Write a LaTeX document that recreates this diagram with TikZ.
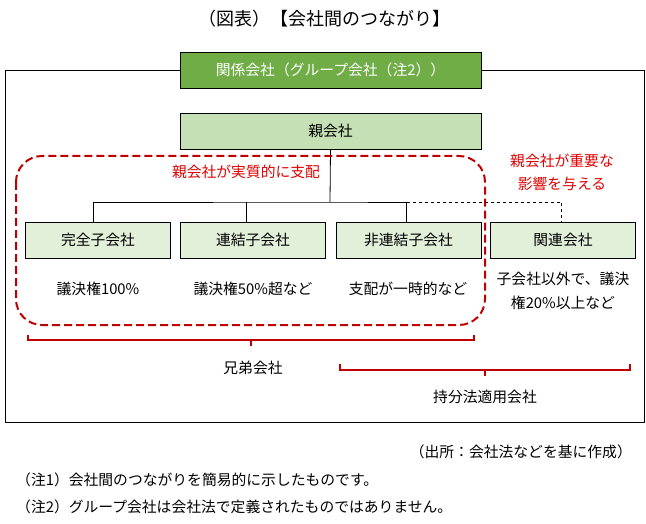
\documentclass[tikz,border=0pt]{standalone}
\usepackage{fontspec}
\setmainfont{Noto Sans CJK JP}
\definecolor{grpgreen}{HTML}{70AD47}
\definecolor{parentgreen}{HTML}{C5E0B4}
\definecolor{childgreen}{HTML}{E2F0D9}
\definecolor{linered}{HTML}{C00000}
\definecolor{textred}{HTML}{E00000}
\tikzset{
  cobox/.style={draw=black,line width=0.8pt,minimum width=145pt,minimum height=36pt,
    inner sep=0pt,font=\fontsize{14.8}{16}\selectfont},
  memo/.style={inner sep=0pt,font=\fontsize{14.8}{24}\selectfont,align=center},
  redmemo/.style={memo,text=textred},
  bracket/.style={linered,line width=1.5pt},
}
\begin{document}
\begin{tikzpicture}[x=1pt,y=-1pt]
  \useasboundingbox (0,0) rectangle (646,524);
  \node[font=\fontsize{18}{20}\selectfont] (title) at (324,19) {（図表）【会社間のつながり】};
  % outer frame
  \draw[line width=0.8pt] (5,70) rectangle (644,422);
  \node[cobox,fill=grpgreen,text=white,minimum width=301pt] (group) at (330.5,70) {関係会社（グループ会社（注2））};
  \node[cobox,fill=parentgreen,minimum width=301pt] (parent) at (330.5,131) {親会社};
  \node[cobox,fill=childgreen] (full) at (98,240) {完全子会社};
  \node[cobox,fill=childgreen] (consol) at (253,240) {連結子会社};
  \node[cobox,fill=childgreen] (nonconsol) at (408.5,240) {非連結子会社};
  \node[cobox,fill=childgreen] (affil) at (563,240) {関連会社};
  % tree lines
  \coordinate (bus) at (330,202);
  \draw[line width=0.8pt] (parent.south) -- (bus);
  \draw[line width=0.8pt] ([xshift=-5pt]full.north) |- (bus) -| ([xshift=-2pt]nonconsol.north);
  \draw[line width=0.8pt] ([xshift=-7pt]consol.north) -- ([xshift=-7pt]consol.north |- bus);
  \draw[line width=0.8pt,dashed] ([xshift=-2pt]nonconsol.north |- bus) -| ([xshift=-2pt]affil.north);
  % control area
  \draw[linered,line width=2pt,dash pattern=on 8pt off 4pt,rounded corners=26pt] (16,156) rectangle (485,325);
  \node[redmemo] (ctrl) at (246,172) {親会社が実質的に支配};
  \node[redmemo,font=\fontsize{14.8}{23}\selectfont] (influence) at (562,172.5) {親会社が重要な\\影響を与える};
  \node[memo] (full-txt) at (98,289) {議決権100\%};
  \node[memo] (consol-txt) at (253,289) {議決権50\%超など};
  \node[memo] (nonconsol-txt) at (408,289) {支配が一時的など};
  \node[memo] (affil-txt) at (563,291) {子会社以外で、議決\\権20\%以上など};
  % brackets
  \draw[bracket] (28,335) -- (28,340) -- (474,340) -- (474,335);
  \draw[bracket] (251,340) -- (251,346);
  \node[memo] (sibling) at (253,368) {兄弟会社};
  \draw[bracket] (340,364) -- (340,370) -- (630,370) -- (630,364);
  \draw[bracket] (485,370) -- (485,376);
  \node[memo] (equity) at (485,397) {持分法適用会社};
  % notes
  \node[memo,anchor=east] (source) at (632,452) {（出所：会社法などを基に作成）};
  \node[memo,anchor=west] (note1) at (16,480) {（注1）会社間のつながりを簡易的に示したものです。};
  \node[memo,anchor=west] (note2) at (16,507) {（注2）グループ会社は会社法で定義されたものではありません。};
\end{tikzpicture}
\end{document}
